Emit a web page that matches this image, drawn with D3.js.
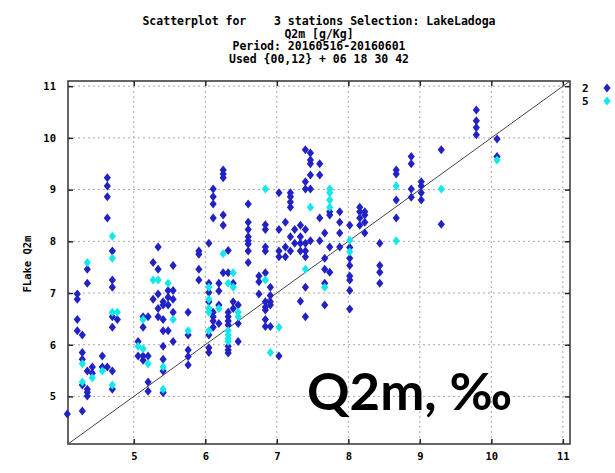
<!DOCTYPE html>
<html><head><meta charset="utf-8">
<script src="https://cdn.jsdelivr.net/npm/d3@7"></script>
<style>body{margin:0;background:#fff}svg{display:block}</style>
</head><body><svg id="c" width="615" height="473"></svg>
<script>
// ---- data (x = SYN Q2m, y = FLake Q2m), grouped by observed value ----
const titleLines = ["Scatterplot for    3 stations Selection: LakeLadoga", "Q2m [g/Kg]", "Period: 20160516-20160601", "Used {00,12} + 06 18 30 42"];
const xTicks = [5, 6, 7, 8, 9, 10, 11];
const yTicks = [5, 6, 7, 8, 9, 10, 11];
const legendLabels = ["2", "5"];
const series2Cols = [
 [4.07,[4.66]],
 [4.21,[6.98,6.88,6.49,6.27]],
 [4.28,[6.19,5.85,5.72,5.22,4.72]],
 [4.35,[7.46,7.19,5.49,5.14,5.08,5.01]],
 [4.42,[5.57,5.45]],
 [4.56,[5.78,5.57]],
 [4.63,[9.23,9.07,8.86,8.45,5.57]],
 [4.70,[7.81,7.25,7.11,6.54,6.34,5.49,5.14]],
 [4.77,[6.49]],
 [5.06,[6.06,5.78]],
 [5.13,[6.54,6.34,5.78,5.70]],
 [5.20,[6.54,5.78,5.28,5.10]],
 [5.27,[7.59,6.88]],
 [5.34,[7.89,7.46,6.98,6.70,6.54]],
 [5.41,[6.83,6.77,6.49,6.27,5.97,5.72,5.49,5.07]],
 [5.48,[7.05,6.92,6.77,6.27]],
 [5.55,[7.53,7.05,6.88,6.63,6.06]],
 [5.76,[6.63,6.19,5.90,5.77,5.61]],
 [5.91,[7.81,7.75,7.46,7.25]],
 [6.05,[7.96,7.19,7.01,6.83,6.19,5.94,5.85]],
 [6.11,[9.01,8.86,8.72,8.45,6.63,6.54,6.46,6.34]],
 [6.19,[7.19,7.04,6.77,6.41]],
 [6.25,[9.38,9.30,9.23,8.51,8.31,7.39]],
 [6.32,[7.82,7.39,6.63,6.54,6.46,6.38,5.97,5.90,5.84]],
 [6.39,[7.19,6.83,6.70]],
 [6.46,[6.77,6.41,6.06]],
 [6.60,[8.72,8.37,8.23,8.09,8.01,7.95,7.81,7.59]],
 [6.75,[7.33,7.22,6.98]],
 [6.84,[8.32,8.23,7.89,7.81,7.39,6.83,6.73,6.67,6.49,6.35]],
 [6.91,[7.11,6.95,6.83,6.77,6.35]],
 [7.03,[8.94,8.23,7.81,7.70,5.78]],
 [7.12,[8.37,7.89,7.70]],
 [7.19,[8.94,8.86,8.76,8.66,8.09,7.81]],
 [7.25,[8.23,7.96]],
 [7.33,[8.31,8.09,7.96,7.81,6.84]],
 [7.40,[9.77,9.15,9.01,8.23,7.96,7.81,7.70,7.11,6.54]],
 [7.47,[9.71,9.57,9.50,9.28,9.01,8.01]],
 [7.60,[9.50,9.28,8.45,8.01]],
 [7.67,[8.16,7.67,7.46,7.19,6.77]],
 [7.74,[8.57,8.51,7.89,7.40]],
 [7.88,[8.57,8.37,8.16,7.89]],
 [8.02,[8.31,7.88,7.67,7.53,7.33,7.25,7.05,6.69]],
 [8.16,[8.66,8.57,8.45,8.31]],
 [8.23,[8.57,8.51,8.37,8.16]],
 [8.44,[7.96,7.53,7.40,7.19]],
 [8.67,[9.38,9.30,8.80,8.45]],
 [8.88,[9.64,9.50,9.01,8.85]],
 [9.02,[9.15,9.07,8.94,8.80]],
 [9.30,[9.77,8.33]],
 [9.79,[10.54,10.33,10.20,10.06]],
 [10.08,[9.98,9.64]]
];
const series5Cols = [
 [4.28,[5.63,5.28]],
 [4.35,[7.59]],
 [4.42,[5.36]],
 [4.56,[5.49]],
 [4.70,[8.10,7.67,6.63,5.22]],
 [4.77,[6.63]],
 [5.06,[5.97]],
 [5.13,[6.49,5.92]],
 [5.20,[5.63]],
 [5.27,[7.25]],
 [5.34,[7.25]],
 [5.41,[5.57,5.14]],
 [5.48,[7.19]],
 [5.55,[6.49]],
 [5.76,[6.27]],
 [6.05,[7.11,6.88,6.70,6.63,6.27]],
 [6.19,[6.70]],
 [6.25,[7.76]],
 [6.32,[7.19,6.27,6.19,6.12,6.06]],
 [6.39,[7.39,7.11]],
 [6.46,[6.63,6.54]],
 [6.84,[9.01,7.25]],
 [6.91,[5.85]],
 [7.03,[6.34]],
 [7.40,[7.46]],
 [7.47,[8.66]],
 [7.67,[7.11]],
 [7.74,[9.01,8.94,8.80,8.66]],
 [8.02,[8.02,7.80]],
 [8.67,[9.07,8.01]],
 [9.30,[9.01]],
 [10.08,[9.57]]
];
const domain = [4.08, 11.1];

// ---- drawing ----
const flat = cols => cols.flatMap(([x, ys]) => ys.map(y => ({x, y})));
const s2 = flat(series2Cols), s5 = flat(series5Cols);
const svg = d3.select("#c");
const L = 68, R = 570, T = 81, B = 444;
const x = d3.scaleLinear().domain(domain).range([L, R]);
const y = d3.scaleLinear().domain(domain).range([B, T]);
const mono = "'DejaVu Sans Mono', monospace";

svg.append("rect").attr("width", 615).attr("height", 473).attr("fill", "#fff");

// title
svg.append("g").selectAll("text").data(titleLines).join("text")
  .attr("x", 319).attr("y", (d, i) => 25 + i * 12.5)
  .attr("text-anchor", "middle").attr("font-family", mono).attr("font-weight", "bold")
  .attr("font-size", 11.5).attr("fill", "#000").style("white-space", "pre").text(d => d);

// grid
const grid = svg.append("g").attr("stroke", "#a8a8a8").attr("stroke-dasharray", "2,3").attr("stroke-width", 1);
grid.selectAll(".gx").data(xTicks).join("line").attr("x1", d => x(d)).attr("x2", d => x(d)).attr("y1", T).attr("y2", B);
grid.selectAll(".gy").data(yTicks).join("line").attr("y1", d => y(d)).attr("y2", d => y(d)).attr("x1", L).attr("x2", R);

// axes (tick marks inside on all four sides)
const tickFmt = d3.format("d");
svg.append("g").attr("transform", `translate(0,${B})`).call(d3.axisBottom(x).tickValues(xTicks).tickSize(-5).tickPadding(9).tickFormat(tickFmt));
svg.append("g").attr("transform", `translate(0,${T})`).call(d3.axisTop(x).tickValues(xTicks).tickSize(-5).tickFormat(""));
svg.append("g").attr("transform", `translate(${L},0)`).call(d3.axisLeft(y).tickValues(yTicks).tickSize(-5).tickPadding(12).tickFormat(tickFmt));
svg.append("g").attr("transform", `translate(${R},0)`).call(d3.axisRight(y).tickValues(yTicks).tickSize(-5).tickFormat(""));
svg.selectAll(".domain").remove();
svg.selectAll(".tick line").attr("stroke", "#222").attr("stroke-width", 1.5);
svg.selectAll(".tick text").attr("font-family", mono).attr("font-weight", "bold").attr("font-size", 10.5).attr("fill", "#000");

// frame
svg.append("rect").attr("x", L).attr("y", T).attr("width", R - L).attr("height", B - T)
  .attr("fill", "none").attr("stroke", "#333").attr("stroke-width", 1.5);

// diagonal y = x
svg.append("line").attr("x1", x(domain[0])).attr("y1", y(domain[0])).attr("x2", x(domain[1])).attr("y2", y(domain[1]))
  .attr("stroke", "#444").attr("stroke-width", 1);

// markers
const diamond = (cx, cy) => `M${cx},${cy - 4.5}L${cx + 3.6},${cy}L${cx},${cy + 4.5}L${cx - 3.6},${cy}Z`;
const colors = ["#2222c4", "#10e8ec"];
svg.append("g").selectAll("path").data(s2).join("path").attr("d", d => diamond(x(d.x), y(d.y))).attr("fill", colors[0]);
svg.append("g").selectAll("path").data(s5).join("path").attr("d", d => diamond(x(d.x), y(d.y))).attr("fill", colors[1]);

// legend
const lg = svg.append("g");
lg.selectAll("text").data(legendLabels).join("text").attr("x", 582).attr("y", (d, i) => 92 + i * 13)
  .attr("font-family", mono).attr("font-weight", "bold").attr("font-size", 11).text(d => d);
lg.selectAll("path").data(legendLabels).join("path").attr("d", (d, i) => diamond(607, 88 + i * 13)).attr("fill", (d, i) => colors[i]);

// axis titles
svg.append("text").attr("transform", "translate(31,264) rotate(-90)").attr("text-anchor", "middle")
  .attr("font-family", mono).attr("font-weight", "bold").attr("font-size", 10.5).style("white-space", "pre").text("FLake Q2m");
svg.append("text").attr("x", 316).attr("y", 481).attr("text-anchor", "middle")
  .attr("font-family", mono).attr("font-weight", "bold").attr("font-size", 11).text("SYN Q2m");

// big annotation
svg.append("text").attr("x", 307).attr("y", 410).attr("font-family", "'Comic Sans MS', Lato, 'DejaVu Sans', sans-serif")
  .attr("font-weight", "bold").attr("font-size", 52).attr("textLength", 205).attr("lengthAdjust", "spacingAndGlyphs")
  .attr("fill", "#000").text("Q2m, ‰");
</script></body></html>
